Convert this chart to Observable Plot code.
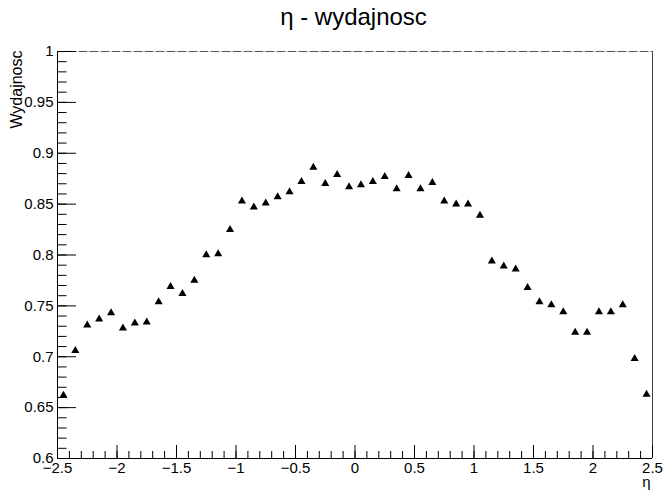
<!DOCTYPE html>
<html><head><meta charset="utf-8">
<script src="https://cdn.jsdelivr.net/npm/d3@7"></script>
<script src="https://cdn.jsdelivr.net/npm/@observablehq/plot@0.6"></script>
<style>
  html, body { margin: 0; padding: 0; background: #fff; }
  #chart { width: 663px; height: 491px; }
</style>
</head><body>
<div id="chart"></div>
<script>
// ---- data ----
const etaCenters = [
  -2.45, -2.35, -2.25, -2.15, -2.05, -1.95, -1.85, -1.75, -1.65, -1.55,
  -1.45, -1.35, -1.25, -1.15, -1.05, -0.95, -0.85, -0.75, -0.65, -0.55,
  -0.45, -0.35, -0.25, -0.15, -0.05, 0.05, 0.15, 0.25, 0.35, 0.45,
  0.55, 0.65, 0.75, 0.85, 0.95, 1.05, 1.15, 1.25, 1.35, 1.45,
  1.55, 1.65, 1.75, 1.85, 1.95, 2.05, 2.15, 2.25, 2.35, 2.45
];
const efficiency = [
  0.662, 0.706, 0.731, 0.737, 0.743, 0.728, 0.733, 0.734, 0.754, 0.769,
  0.762, 0.775, 0.800, 0.801, 0.825, 0.853, 0.847, 0.851, 0.857, 0.862,
  0.872, 0.886, 0.870, 0.879, 0.867, 0.869, 0.872, 0.877, 0.865, 0.878,
  0.865, 0.871, 0.853, 0.850, 0.850, 0.839, 0.794, 0.789, 0.786, 0.768,
  0.754, 0.751, 0.744, 0.724, 0.724, 0.744, 0.744, 0.751, 0.698, 0.663
];
const xTicks = [-2.5, -2, -1.5, -1, -0.5, 0, 0.5, 1, 1.5, 2, 2.5];
const xTickLabels = ["−2.5", "−2", "−1.5", "−1", "−0.5", "0", "0.5", "1", "1.5", "2", "2.5"];
const yTicks = [0.6, 0.65, 0.7, 0.75, 0.8, 0.85, 0.9, 0.95, 1];
const yTickLabels = ["0.6", "0.65", "0.7", "0.75", "0.8", "0.85", "0.9", "0.95", "1"];
const xMinorTicks = d3.range(-25, 26).map(i => i / 10);
const yMinorTicks = d3.range(60, 101).map(i => i / 100);
const title = "η - wydajnosc";
const xTitle = "η";
const yTitle = "Wydajnosc";

// ---- layout ----
const W = 663, H = 491;
const mL = 57, mR = 11, mT = 51, mB = 33;
const fw = W - mL - mR, fh = H - mT - mB;
const font = "'Liberation Sans', Arial, Helvetica, sans-serif";

const points = etaCenters.map((x, i) => ({eta: x, eff: efficiency[i]}));

const chart = Plot.plot({
  width: W, height: H,
  marginLeft: mL, marginRight: mR, marginTop: mT, marginBottom: mB,
  style: {fontFamily: font, fontSize: "15px", background: "#fff", overflow: "visible"},
  x: {domain: [-2.5, 2.5]},
  y: {domain: [0.6, 1]},
  marks: [
    // top dashed line and right border
    Plot.ruleY([1], {stroke: "#c8c8c8", strokeWidth: 1}),
    Plot.ruleY([1], {stroke: "#555", strokeWidth: 1, strokeDasharray: "8,3"}),
    Plot.ruleX([2.5], {stroke: "#444", strokeWidth: 1}),
    // minor and major ticks (inside the frame)
    Plot.tickY(yMinorTicks, {y: d => d, insetRight: fw - 9.5, stroke: "#000"}),
    Plot.tickY(yTicks, {y: d => d, insetRight: fw - 19, stroke: "#000"}),
    Plot.tickX(xMinorTicks, {x: d => d, insetTop: fh - 7, stroke: "#000"}),
    Plot.tickX(xTicks, {x: d => d, insetTop: fh - 13, stroke: "#000"}),
    // axis lines
    Plot.ruleX([-2.5], {stroke: "#000", strokeWidth: 1}),
    Plot.ruleY([0.6], {stroke: "#000", strokeWidth: 1}),
    // tick labels
    Plot.axisY({ticks: yTicks, tickSize: 0, tickPadding: 4, fontSize: 15, label: null,
      tickFormat: d => yTickLabels[yTicks.indexOf(d)]}),
    Plot.axisX({ticks: xTicks, tickSize: 0, tickPadding: 4, fontSize: 15, label: null,
      tickFormat: d => xTickLabels[xTicks.indexOf(d)]}),
    // data points
    Plot.dot(points, {x: "eta", y: "eff", symbol: "triangle", r: 3, fill: "#000", stroke: "none"}),
    // titles
    Plot.text([title], {frameAnchor: "top", lineAnchor: "middle", dx: -1.5, dy: -33.7, fontSize: 24, fill: "#000"}),
    Plot.text([xTitle], {frameAnchor: "bottom-right", lineAnchor: "middle", textAnchor: "end", dx: -2, dy: 24, fontSize: 15, fill: "#000"}),
    Plot.text([yTitle], {frameAnchor: "top-left", lineAnchor: "middle", rotate: -90, textAnchor: "end", dx: -41, dy: -1, fontSize: 16, fill: "#000"})
  ]
});
document.getElementById("chart").appendChild(chart);
</script>
</body></html>
